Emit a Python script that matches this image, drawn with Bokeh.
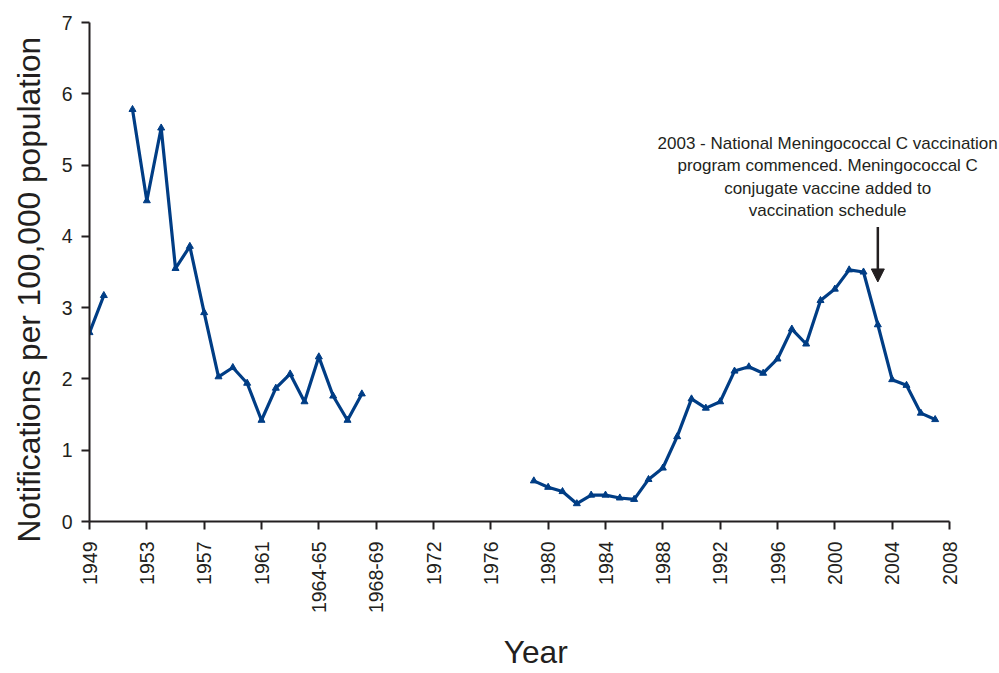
import numpy as np
from bokeh.plotting import figure
from bokeh.models import Range1d, FixedTicker, Label, Arrow, NormalHead
from bokeh.embed import file_html
from bokeh.resources import INLINE

# Categories (x slots) – calendar years, then financial years, then calendar years
categories = ([str(y) for y in range(1949, 1965)]
              + ["1964-65", "1965-66", "1966-67", "1967-68",
                 "1968-69", "1969-70", "1970-71", "1971-72"]
              + [str(y) for y in range(1972, 2009)])

# Notification rate per 100,000 population (None = no data)
rates = [2.65, 3.17, None, 5.78, 4.50, 5.52, 3.55, 3.86, 2.93, 2.03,
         2.16, 1.94, 1.42, 1.87, 2.07, 1.68, 2.31, 1.76, 1.42, 1.79,
         None, None, None, None, None, None, None, None, None, None, None,
         0.57, 0.48, 0.42, 0.25, 0.37, 0.37, 0.33, 0.31, 0.59, 0.75,
         1.19, 1.72, 1.59, 1.68, 2.11, 2.17, 2.08, 2.28, 2.70, 2.49,
         3.10, 3.26, 3.53, 3.50, 2.76, 1.99, 1.91, 1.52, 1.43, None]

tick_labels = categories[::4]
y_ticks = [0, 1, 2, 3, 4, 5, 6, 7]

annotation_text = ("2003 - National Meningococcal C vaccination\n"
                   "program commenced. Meningococcal C\n"
                   "conjugate vaccine added to\n"
                   "vaccination schedule")
annotation_year = "2003"

LINE = "#003d85"
INK = "#231f20"
FONT = "Liberation Sans"
NB = "\u00a0"

W, H = 999, 673
LEFT, TOP, BOTTOM = 89, 22, 151
n_last = len(categories) - 1
axis_px = 860.0                      # pixel length of the drawn x axis
x_end = n_last * (W - LEFT) / axis_px  # frame extends past the axis for the note

x = np.arange(len(categories), dtype=float)
y = np.array([np.nan if v is None else v for v in rates], dtype=float)

p = figure(width=W, height=H, output_backend="svg", toolbar_location=None,
           x_range=Range1d(0, x_end), y_range=Range1d(0, 7),
           min_border_left=LEFT, min_border_right=0, min_border_top=TOP,
           min_border_bottom=BOTTOM)
p.outline_line_color = None
p.xgrid.grid_line_color = None
p.ygrid.grid_line_color = None
p.background_fill_color = "white"
p.border_fill_color = "white"

p.line(x, y, line_color=LINE, line_width=3.2)
p.scatter(x, y, marker="triangle", size=7, fill_color=LINE, line_color=LINE)

tick_pos = list(range(0, len(categories), 4))
p.xaxis.ticker = FixedTicker(ticks=tick_pos)
p.xaxis.bounds = (0, n_last)
p.xaxis.major_label_overrides = {t: lab for t, lab in zip(tick_pos, tick_labels)}
p.xaxis.major_label_orientation = np.pi / 2
p.yaxis.ticker = FixedTicker(ticks=y_ticks)

for ax in (p.xaxis[0], p.yaxis[0]):
    ax.axis_line_color = INK
    ax.axis_line_width = 2
    ax.major_tick_line_color = INK
    ax.major_tick_line_width = 2
    ax.major_tick_out = 8
    ax.major_tick_in = 0
    ax.minor_tick_line_color = None
    ax.major_label_text_font = FONT
    ax.major_label_text_font_size = "19.5px"
    ax.major_label_text_color = INK
    ax.axis_label_text_font = FONT
    ax.axis_label_text_font_size = "31.7px"
    ax.axis_label_text_font_style = "normal"
    ax.axis_label_text_color = INK

p.xaxis.axis_label = "Year" + NB * 2
p.yaxis.axis_label = "Notifications per 100,000 population" + NB * 4
p.xaxis.major_label_standoff = 12
p.xaxis.axis_label_standoff = 18
p.yaxis.major_label_standoff = 9
p.yaxis.axis_label_standoff = 12

ax_x = categories.index(annotation_year)
p.add_layout(Arrow(end=NormalHead(size=13, fill_color=INK, line_color=INK),
                   x_start=ax_x, y_start=4.13, x_end=ax_x, y_end=3.36,
                   line_color=INK, line_width=2.5))

p.add_layout(Label(x=51.5, y=4.834, text=annotation_text, text_align="center",
                   text_baseline="middle", text_font=FONT,
                   text_font_size="17px", text_color=INK, text_line_height=1.18))

open("out.html", "w").write(file_html(p, INLINE))
